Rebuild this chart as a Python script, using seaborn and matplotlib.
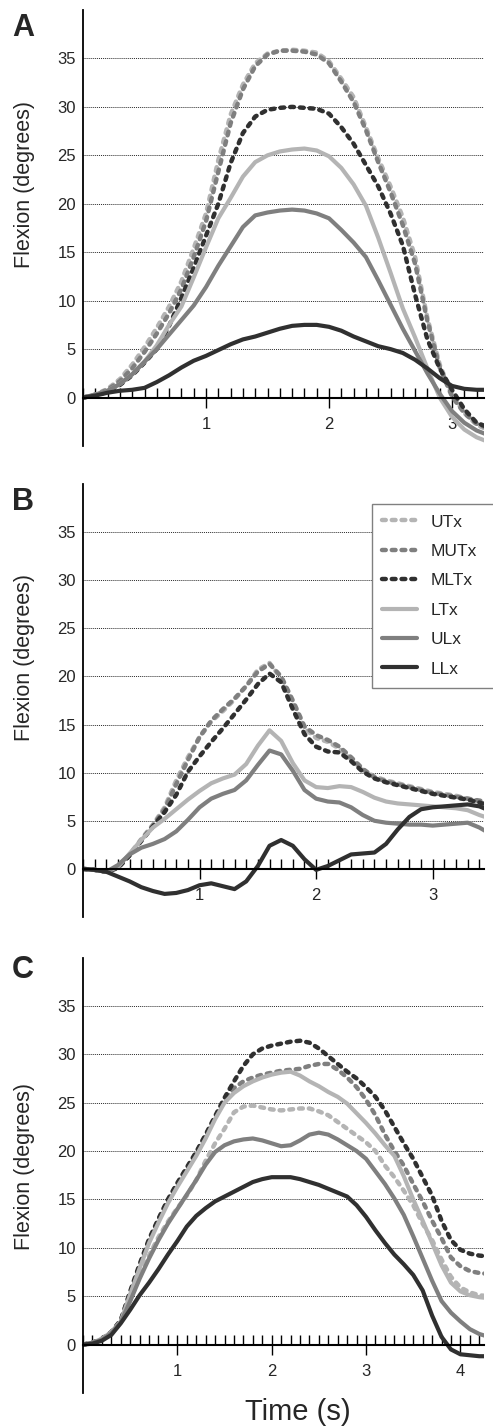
import numpy as np
import pandas as pd
import matplotlib
matplotlib.use("Agg")
import matplotlib.pyplot as plt
import seaborn as sns
from matplotlib.patches import Rectangle
from matplotlib.ticker import FixedLocator, MultipleLocator

sns.set_style("white")
plt.rcParams['font.family'] = ['Liberation Sans', 'DejaVu Sans']

# ---------------- data ----------------
series_names = ["UTx", "MUTx", "MLTx", "LTx", "ULx", "LLx"]

# Panel A
time_A = np.round(np.arange(0, 3.31, 0.1), 2)
A_UTx = [0, 0.3, 0.9, 1.9, 3.4, 5.2, 7.2, 9.4, 12.0, 15.4, 19.0, 24.5, 29.2, 32.3, 34.5, 35.5, 35.8, 35.9, 35.8,
         35.6, 34.7, 32.9, 31.0, 27.9, 24.7, 21.8, 18.6, 14.5, 8.2, 3.4, 0.3, -1.6, -2.8, -3.4]
A_MUTx = [0, 0.3, 0.8, 1.7, 3.0, 4.7, 6.6, 8.7, 11.2, 14.5, 18.2, 23.3, 28.3, 31.8, 34.2, 35.4, 35.8, 35.8, 35.7,
          35.4, 34.5, 32.6, 30.5, 27.6, 24.3, 21.2, 17.8, 13.8, 7.9, 3.1, 0.1, -1.6, -2.7, -3.2]
A_MLTx = [0, 0.2, 0.6, 1.3, 2.3, 3.6, 5.0, 7.4, 10.3, 13.4, 16.7, 20.0, 24.2, 27.3, 29.0, 29.7, 29.9, 30.0, 29.9,
          29.8, 29.3, 27.9, 26.2, 24.0, 21.8, 19.0, 15.7, 10.6, 6.0, 3.0, 0.8, -1.2, -2.6, -3.1]
A_LTx = [0, 0.3, 0.7, 1.4, 2.4, 3.7, 5.4, 7.5, 9.4, 12.4, 15.5, 18.5, 20.6, 22.8, 24.3, 25.0, 25.4, 25.6, 25.7,
         25.5, 24.9, 23.7, 22.0, 19.8, 16.5, 12.9, 9.2, 6.2, 3.0, 0.0, -2.0, -3.3, -4.1, -4.6]
A_ULx = [0, 0.3, 0.7, 1.4, 2.4, 3.7, 5.0, 6.5, 8.0, 9.5, 11.4, 13.6, 15.6, 17.6, 18.8, 19.1, 19.3, 19.4, 19.3,
         19.0, 18.5, 17.3, 16.0, 14.5, 12.1, 9.6, 7.1, 4.8, 2.5, 0.4, -1.4, -2.6, -3.4, -3.9]
A_LLx = [0, 0.2, 0.5, 0.7, 0.8, 1.0, 1.6, 2.3, 3.1, 3.8, 4.3, 4.9, 5.5, 6.0, 6.3, 6.7, 7.1, 7.4, 7.5,
         7.5, 7.3, 6.9, 6.3, 5.8, 5.3, 5.0, 4.6, 3.9, 3.0, 2.0, 1.2, 0.9, 0.8, 0.8]

# Panel B
time_B = np.round(np.arange(0, 3.51, 0.1), 2)
B_UTx = [0, -0.1, -0.3, 0.2, 1.5, 3.1, 4.6, 6.4, 9.2, 11.6, 13.7, 15.3, 16.4, 17.6, 19.0, 20.7, 21.4, 19.8, 17.3,
         14.6, 13.6, 13.2, 12.5, 11.4, 10.3, 9.6, 9.2, 8.9, 8.6, 8.3, 8.0, 7.8, 7.6, 7.3, 7.0, 6.7]
B_MUTx = [0, -0.1, -0.3, 0.1, 1.4, 3.0, 4.5, 6.2, 8.8, 11.3, 13.7, 15.4, 16.6, 17.7, 19.0, 20.5, 21.3, 20.0, 17.5,
          14.8, 13.9, 13.4, 12.7, 11.6, 10.4, 9.5, 9.1, 8.8, 8.5, 8.2, 7.9, 7.7, 7.5, 7.3, 7.1, 6.9]
B_MLTx = [0, -0.1, -0.3, 0.1, 1.4, 2.9, 4.4, 5.9, 7.7, 10.1, 11.7, 13.2, 14.6, 16.1, 17.6, 19.2, 20.3, 19.4, 16.6,
          14.0, 12.7, 12.2, 12.1, 11.2, 10.1, 9.4, 9.0, 8.7, 8.4, 8.1, 7.8, 7.6, 7.4, 7.2, 6.9, 6.5]
B_LTx = [0, -0.1, -0.3, 0.2, 1.6, 3.0, 4.3, 5.2, 6.2, 7.2, 8.1, 8.9, 9.4, 9.8, 10.9, 12.8, 14.4, 13.3, 11.0,
         9.2, 8.5, 8.4, 8.6, 8.5, 8.0, 7.4, 7.0, 6.8, 6.7, 6.6, 6.5, 6.4, 6.3, 6.1, 5.6, 5.2]
B_ULx = [0, -0.1, -0.3, 0.4, 1.5, 2.2, 2.6, 3.1, 3.9, 5.1, 6.4, 7.3, 7.8, 8.2, 9.2, 10.8, 12.3, 11.9, 10.2,
         8.2, 7.3, 7.0, 6.9, 6.4, 5.6, 5.0, 4.8, 4.7, 4.6, 4.6, 4.5, 4.6, 4.7, 4.8, 4.3, 3.6]
B_LLx = [0, -0.1, -0.3, -0.8, -1.3, -1.9, -2.3, -2.6, -2.5, -2.2, -1.7, -1.5, -1.8, -2.1, -1.3, 0.3, 2.4, 3.0, 2.4,
         1.0, -0.1, 0.3, 0.9, 1.5, 1.6, 1.7, 2.6, 4.1, 5.4, 6.2, 6.4, 6.5, 6.6, 6.7, 6.5, 6.0]

# Panel C
time_C = np.round(np.arange(0, 4.31, 0.1), 2)
C_UTx = [0, 0.2, 0.5, 1.2, 2.3, 4.6, 7.0, 9.2, 11.1, 12.7, 14.1, 15.4, 17.0, 19.0, 20.8, 22.3, 24.0, 24.6, 24.7,
         24.5, 24.3, 24.2, 24.3, 24.4, 24.4, 24.1, 23.7, 23.0, 22.3, 21.6, 20.9, 20.0, 18.5, 17.3, 15.9, 14.4,
         12.5, 10.8, 8.8, 7.0, 5.9, 5.4, 5.1, 5.0]
C_MUTx = [0, 0.2, 0.6, 1.3, 2.5, 5.4, 8.1, 10.7, 12.9, 14.9, 16.6, 18.2, 19.8, 21.6, 23.5, 25.2, 26.5, 27.2, 27.6,
          27.9, 28.1, 28.3, 28.4, 28.5, 28.8, 29.0, 29.0, 28.4, 27.6, 26.6, 25.3, 23.7, 21.7, 20.0, 18.5, 16.6,
          14.8, 12.8, 11.0, 9.0, 8.1, 7.6, 7.4, 7.3]
C_MLTx = [0, 0.2, 0.6, 1.3, 2.5, 5.5, 8.3, 10.9, 13.0, 15.0, 16.7, 18.3, 19.9, 21.7, 23.6, 25.5, 27.2, 28.8, 30.0,
          30.6, 30.9, 31.1, 31.3, 31.4, 31.2, 30.6, 29.8, 29.0, 28.2, 27.5, 26.6, 25.6, 24.2, 22.5, 20.8, 19.2,
          17.3, 15.4, 12.8, 10.8, 9.8, 9.4, 9.2, 9.1]
C_LTx = [0, 0.2, 0.6, 1.3, 2.4, 5.2, 7.9, 10.5, 12.6, 14.6, 16.3, 17.9, 19.5, 21.3, 23.3, 25.0, 26.0, 26.7, 27.2,
         27.6, 27.9, 28.1, 28.2, 27.8, 27.2, 26.7, 26.1, 25.6, 24.9, 23.9, 22.9, 21.8, 20.6, 19.5, 17.4, 15.0,
         12.8, 10.5, 8.2, 6.4, 5.5, 5.1, 4.9, 4.8]
C_ULx = [0, 0.2, 0.5, 1.2, 2.3, 4.5, 6.8, 8.9, 10.8, 12.5, 14.0, 15.5, 17.0, 18.6, 19.9, 20.6, 21.0, 21.2, 21.3,
         21.1, 20.8, 20.5, 20.6, 21.1, 21.7, 21.9, 21.7, 21.2, 20.6, 20.0, 19.2, 17.9, 16.6, 15.1, 13.4, 11.2,
         8.9, 6.6, 4.5, 3.3, 2.4, 1.6, 1.1, 0.8]
C_LLx = [0, 0.1, 0.4, 1.0, 2.2, 3.6, 5.1, 6.4, 7.8, 9.3, 10.7, 12.2, 13.3, 14.1, 14.8, 15.3, 15.8, 16.3, 16.8,
         17.1, 17.3, 17.3, 17.3, 17.1, 16.8, 16.5, 16.1, 15.7, 15.3, 14.4, 13.2, 11.8, 10.5, 9.3, 8.3, 7.2,
         5.6, 3.0, 0.8, -0.5, -1.0, -1.1, -1.2, -1.2]

y_ticks = [0, 5, 10, 15, 20, 25, 30, 35]

panels = [
    ("A", time_A, [A_UTx, A_MUTx, A_MLTx, A_LTx, A_ULx, A_LLx], 3.26, [1, 2, 3]),
    ("B", time_B, [B_UTx, B_MUTx, B_MLTx, B_LTx, B_ULx, B_LLx], 3.44, [1, 2, 3]),
    ("C", time_C, [C_UTx, C_MUTx, C_MLTx, C_LTx, C_ULx, C_LLx], 4.25, [1, 2, 3, 4]),
]

# ---------------- style ----------------
colors = {"UTx": "#b4b4b4", "MUTx": "#7f7f7f", "MLTx": "#303030",
          "LTx": "#b4b4b4", "ULx": "#7f7f7f", "LLx": "#303030"}
dotted = {"UTx": True, "MUTx": True, "MLTx": True, "LTx": False, "ULx": False, "LLx": False}
TXT = "#262626"

W, H = 493, 1427
fig = plt.figure(figsize=(W / 100, H / 100), dpi=100)

# axes rectangles in pixels: (left, top, right, bottom)
rects = [(83, 10, 484, 446), (83, 484, 484, 917), (83, 957.5, 484, 1393)]
letter_base = [36, 510, 978]
ylabel_y = [0.60, 0.60, 0.52]

axes = []
for (letter, t, vals, xmax, majors), (l, tp, r, b), lb, yly in zip(panels, rects, letter_base, ylabel_y):
    ax = fig.add_axes([l / W, 1 - b / H, (r - l) / W, (b - tp) / H])
    axes.append(ax)
    df = pd.DataFrame({
        "Time": np.tile(t, len(series_names)),
        "Flexion": np.concatenate([np.asarray(v, dtype=float) for v in vals]),
        "Series": np.repeat(series_names, len(t)),
    })
    for name in series_names:
        sub = df[df["Series"] == name]
        sns.lineplot(data=sub, x="Time", y="Flexion", ax=ax, color=colors[name],
                     linewidth=3.0, legend=False, sort=False, estimator=None)
        line = ax.lines[-1]
        line.set_label(name)
        line.set_solid_capstyle("round")
        line.set_solid_joinstyle("round")
        if dotted[name]:
            line.set_linewidth(3.2)
            line.set_dashes((0.85, 1.35))
            line.set_dash_capstyle("round")
    ax.set_xlim(0, xmax)
    ax.set_ylim(-5, 40)
    # grid
    for yv in y_ticks[1:]:
        ax.axhline(yv, color="#2a2a2a", lw=0.7, ls=(0, (1, 1)), zorder=0.5)
    # spines
    for s in ["top", "right"]:
        ax.spines[s].set_visible(False)
    ax.spines["left"].set_color("black")
    ax.spines["left"].set_linewidth(1.3)
    ax.spines["bottom"].set_position(("data", 0))
    ax.spines["bottom"].set_color("black")
    ax.spines["bottom"].set_linewidth(1.5)
    # ticks
    ax.yaxis.set_major_locator(FixedLocator(y_ticks))
    ax.xaxis.set_major_locator(FixedLocator(majors))
    ax.xaxis.set_minor_locator(MultipleLocator(0.1))
    ax.set_xticklabels([str(m) for m in majors])
    ax.tick_params(axis="y", length=0, pad=5, labelsize=12, labelcolor=TXT, left=True)
    ax.tick_params(axis="x", which="major", direction="inout", length=14, width=1.0,
                   pad=7, labelsize=12, labelcolor=TXT, color="black", bottom=True)
    ax.tick_params(axis="x", which="minor", direction="in", length=7, width=1.0,
                   color="black", bottom=True)
    ax.set_xlabel("")
    ax.set_ylabel("Flexion (degrees)", fontsize=15.5, color=TXT)
    ax.yaxis.set_label_coords(-0.12, yly)
    fig.text(12 / W, 1 - lb / H, letter, fontsize=22, fontweight="bold", color=TXT,
             ha="left", va="baseline")

# legend in panel B (frame runs past the right edge of the figure)
axB = axes[1]
frame = Rectangle((372 / W, 1 - 688 / H), 140 / W, (688 - 504) / H, transform=fig.transFigure,
                  facecolor="white", edgecolor="#808080", linewidth=1.0, clip_on=False, zorder=4)
axB.add_artist(frame)
handles = axB.lines[:len(series_names)]
leg = axB.legend(handles=handles, labels=series_names, loc="upper left",
                 bbox_to_anchor=(372 / W, 1 - 504 / H), bbox_transform=fig.transFigure,
                 frameon=False, fontsize=12.5, handlelength=2.0, handletextpad=0.8,
                 labelspacing=0.82, borderpad=0.6, borderaxespad=0)
leg.set_zorder(5)
for txt in leg.get_texts():
    txt.set_color(TXT)

# x label on panel C
axC = axes[2]
axC.set_xlabel("Time (s)", fontsize=21, color=TXT)
axC.xaxis.set_label_coords(0.535, -0.012)

fig.savefig("out.png", dpi=100)
